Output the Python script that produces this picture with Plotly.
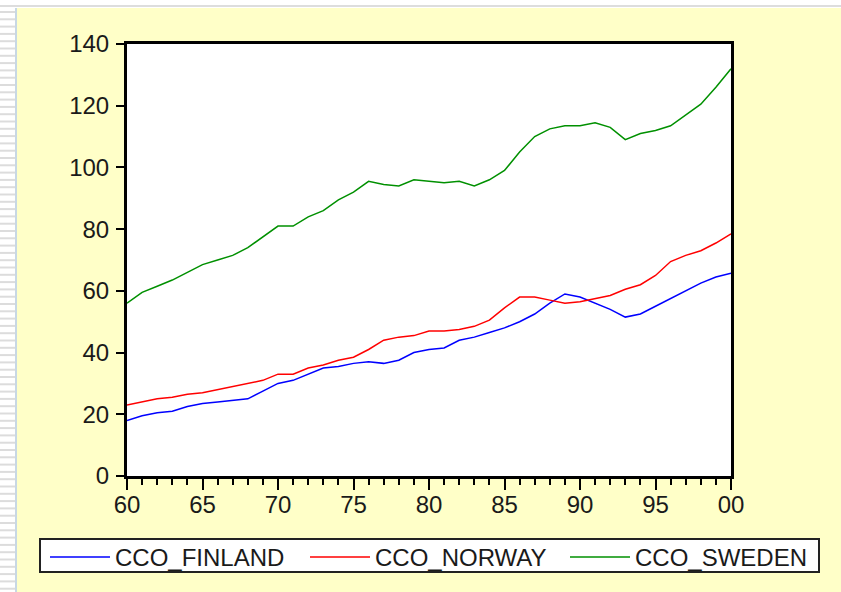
import plotly.graph_objects as go

years = list(range(1960, 2001))
tick_vals = [1960, 1965, 1970, 1975, 1980, 1985, 1990, 1995, 2000]
tick_text = ["60", "65", "70", "75", "80", "85", "90", "95", "00"]

cco_finland = [18, 19.5, 20.5, 21, 22.5, 23.5, 24, 24.5, 25, 27.5,
               30, 31, 33, 35, 35.5, 36.5, 37, 36.5, 37.5, 40,
               41, 41.5, 44, 45, 46.5, 48, 50, 52.5, 56, 59,
               58, 56, 54, 51.5, 52.5, 55, 57.5, 60, 62.5, 64.5, 65.7]
cco_norway = [23, 24, 25, 25.5, 26.5, 27, 28, 29, 30, 31,
              33, 33, 35, 36, 37.5, 38.5, 41, 44, 45, 45.5,
              47, 47, 47.5, 48.5, 50.5, 54.5, 58, 58, 57, 56,
              56.5, 57.5, 58.5, 60.5, 62, 65, 69.5, 71.5, 73, 75.5, 78.5]
cco_sweden = [56, 59.5, 61.5, 63.5, 66, 68.5, 70, 71.5, 74, 77.5,
              81, 81, 84, 86, 89.5, 92, 95.5, 94.5, 94, 96,
              95.5, 95, 95.5, 94, 96, 99, 105, 110, 112.5, 113.5,
              113.5, 114.5, 113, 109, 111, 112, 113.5, 117, 120.5, 126, 132]

W, H = 841, 592
L, R, T, B = 127, 731, 44, 476   # plot-area pixel box
PW = W - L                       # paper width (right margin 0)


def px(x):
    return (x - L) / PW


def py(y):
    return (B - y) / (B - T)


fig = go.Figure()
for name, vals, col in [("CCO_FINLAND", cco_finland, "#0000FF"),
                        ("CCO_NORWAY", cco_norway, "#FF0000"),
                        ("CCO_SWEDEN", cco_sweden, "#009000")]:
    fig.add_trace(go.Scatter(x=years, y=vals, mode="lines", name=name,
                             line=dict(color=col, width=1.5)))

shapes = []
shapes.append(dict(type="rect", xref="paper", yref="paper", x0=px(0), x1=px(17),
                   y0=py(H), y1=py(0), fillcolor="white", line=dict(width=0), layer="below"))
shapes.append(dict(type="rect", xref="paper", yref="paper", x0=px(0), x1=px(W),
                   y0=py(8), y1=py(0), fillcolor="white", line=dict(width=0), layer="below"))
shapes.append(dict(type="line", xref="paper", yref="paper", x0=px(0), x1=px(W),
                   y0=py(6), y1=py(6), line=dict(color="#DDDDDD", width=2), layer="below"))
for k in range(0, 84):
    yy = 12 + k * 7.3
    if yy > H:
        break
    shapes.append(dict(type="line", xref="paper", yref="paper", x0=px(0), x1=px(15),
                       y0=py(yy), y1=py(yy), line=dict(color="#DCDCDC", width=2), layer="below"))
shapes.append(dict(type="line", xref="paper", yref="paper", x0=px(16), x1=px(16),
                   y0=py(8), y1=py(H), line=dict(color="#C8D8E4", width=2), layer="below"))
# legend frame
shapes.append(dict(type="rect", xref="paper", yref="paper", x0=px(40), x1=px(819),
                   y0=py(572), y1=py(539), fillcolor="white",
                   line=dict(color="#222222", width=2), layer="below"))

fig.update_layout(
    width=W, height=H,
    margin=dict(l=L, r=0, t=T, b=H - B, pad=0, autoexpand=False),
    paper_bgcolor="#FFFFC8",
    plot_bgcolor="white",
    font=dict(family="Liberation Sans, Arial, sans-serif", size=24, color="#1A1A1A"),
    showlegend=True,
    legend=dict(orientation="h", x=px(45), y=py(535), xanchor="left", yanchor="top",
                borderwidth=0, bgcolor="rgba(0,0,0,0)",
                font=dict(size=24, color="#1A1A1A"),
                entrywidth=185, entrywidthmode="pixels",
                itemwidth=60, tracegroupgap=0),
    shapes=shapes,
    xaxis=dict(domain=[0, (R - L) / PW], range=[1960, 2000],
               tickvals=tick_vals, ticktext=tick_text,
               ticks="outside", ticklen=11, tickwidth=2, tickcolor="black",
               showline=True, linecolor="black", linewidth=3, mirror=True,
               showgrid=False, zeroline=False, ticklabelstandoff=-6,
               minor=dict(dtick=1, ticks="outside", ticklen=6, tickwidth=2,
                          tickcolor="black", showgrid=False),
               tickfont=dict(size=24)),
    yaxis=dict(range=[0, 140], dtick=20, tick0=0,
               ticks="outside", ticklen=8, tickwidth=2, tickcolor="black",
               showline=True, linecolor="black", linewidth=3, mirror=True,
               showgrid=False, zeroline=False, ticklabelstandoff=2,
               tickfont=dict(size=24)),
)

fig.write_html("out.html", config={"displayModeBar": False},
               post_script="document.body.style.margin='0px';document.body.style.overflow='hidden';")
